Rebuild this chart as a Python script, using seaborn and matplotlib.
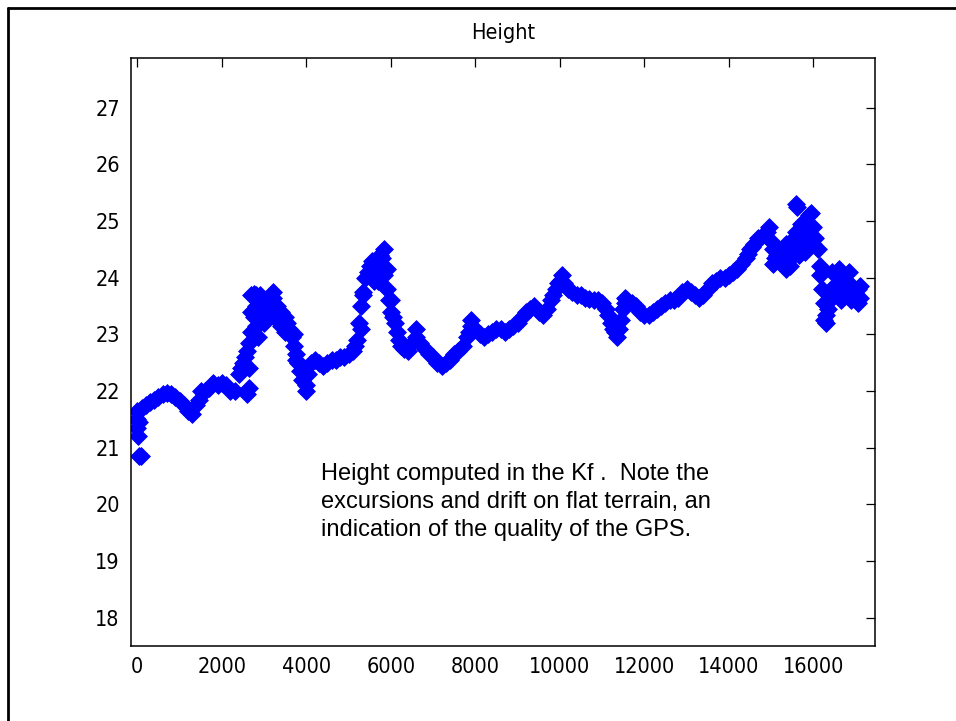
import os
import numpy as np
import pandas as pd
import matplotlib
matplotlib.use("Agg")
import matplotlib.pyplot as plt
import seaborn as sns
from matplotlib import font_manager
from matplotlib.font_manager import FontProperties
from matplotlib.lines import Line2D

# ---------------- data ----------------
x_main = list(range(0, 17200, 100))
y_main = [
    21.65, 21.70, 21.75, 21.80, 21.85, 21.90, 21.95, 21.97, 21.95, 21.90,   # 0-900
    21.82, 21.75, 21.65, 21.60, 21.75, 22.00, 22.00, 22.05, 22.15, 22.10,   # 1000-1900
    22.15, 22.10, 22.00, 22.00, 22.30, 22.50, 22.70, 23.40, 23.50, 23.40,   # 2000-2900
    23.45, 23.60, 23.65, 23.50, 23.40, 23.30, 23.10, 22.80, 22.50, 22.20,   # 3000-3900
    22.10, 22.50, 22.55, 22.50, 22.45, 22.50, 22.55, 22.55, 22.60, 22.60,   # 4000-4900
    22.65, 22.70, 22.90, 23.50, 24.00, 24.20, 24.20, 24.15, 24.20, 23.80,   # 5000-5900
    23.40, 23.20, 22.90, 22.75, 22.70, 22.85, 22.95, 22.85, 22.75, 22.65,   # 6000-6900
    22.60, 22.50, 22.45, 22.50, 22.55, 22.65, 22.70, 22.80, 22.95, 23.15,   # 7000-7900
    23.10, 23.00, 22.95, 23.00, 23.05, 23.10, 23.10, 23.05, 23.10, 23.15,   # 8000-8900
    23.20, 23.30, 23.40, 23.45, 23.50, 23.40, 23.35, 23.45, 23.60, 23.80,   # 9000-9900
    23.95, 23.90, 23.80, 23.75, 23.70, 23.70, 23.65, 23.62, 23.60, 23.60,   # 10000-10900
    23.55, 23.45, 23.20, 23.05, 23.10, 23.45, 23.60, 23.55, 23.50, 23.40,   # 11000-11900
    23.35, 23.35, 23.40, 23.45, 23.50, 23.55, 23.60, 23.60, 23.65, 23.75,   # 12000-12900
    23.80, 23.75, 23.70, 23.65, 23.70, 23.80, 23.90, 23.95, 24.00, 24.00,   # 13000-13900
    24.05, 24.10, 24.15, 24.25, 24.35, 24.50, 24.60, 24.70, 24.75, 24.80,   # 14000-14900
    24.65, 24.35, 24.45, 24.50, 24.45, 24.60, 24.80, 24.60, 24.70, 24.95,   # 15000-15900
    24.90, 24.50, 23.80, 23.35, 23.60, 23.85, 23.90, 23.95, 23.75, 23.80,   # 16000-16900
    23.70, 23.65,                                                           # 17000-17100
]

# extra samples read where the trace is steep or noisy
x_extra = [0, 0, 20, 30, 80, 50,
           1450, 2450, 2550,
           2600, 2650, 2650, 2650, 2700, 2700, 2750, 2750, 2800, 2800, 2850, 2850,
           2900, 2900, 2950, 3000, 3050, 3100, 3150, 3200, 3250, 3300, 3350,
           3400, 3450, 3500, 3550, 3650, 3700, 3750, 3750, 3850, 3950, 4000, 4050,
           5150, 5250, 5300, 5350, 5350, 5450, 5550, 5600, 5650, 5700, 5750,
           5750, 5800, 5850, 5850, 5900, 5950, 6000, 6050, 6150, 6250,
           6600, 7850, 7900, 9850, 9950, 10050,
           11150, 11250, 11350, 11450, 11550, 11550,
           14450, 14550, 14950, 15050, 15050, 15150, 15250, 15350, 15350, 15450,
           15450, 15550, 15550, 15600, 15620, 15650, 15650, 15700, 15750, 15800,
           15850, 15850, 15900, 15950, 15950, 16000, 16050, 16150, 16150,
           16250, 16250, 16300, 16350, 16450, 16450, 16550, 16600, 16650, 16650,
           16750, 16850, 16850, 16900, 16950, 17050, 17050, 17100]
y_extra = [21.50, 21.35, 21.20, 20.85, 20.85, 21.45,
           21.85, 22.40, 22.60,
           21.95, 22.05, 22.40, 22.85, 23.05, 23.70, 23.72, 23.30, 23.15, 23.70, 22.95, 23.50,
           23.70, 23.20, 23.60, 23.20, 23.55, 23.35, 23.50, 23.75, 23.45, 23.25, 23.35,
           23.15, 23.25, 23.05, 23.20, 22.95, 23.00, 22.55, 22.65, 22.35, 22.35, 22.00, 22.30,
           22.80, 23.20, 23.10, 23.70, 23.75, 24.10, 24.30, 23.95, 24.00, 23.95, 24.40,
           24.10, 24.35, 24.50, 24.05, 24.15, 23.60, 23.60, 23.30, 23.05, 22.80,
           23.10, 23.05, 23.25, 23.70, 23.90, 24.05,
           23.35, 23.10, 22.95, 23.25, 23.55, 23.65,
           24.42, 24.55, 24.90, 24.25, 24.50, 24.40, 24.30, 24.15, 24.60, 24.20,
           24.55, 24.40, 24.70, 25.30, 25.25, 24.40, 24.70, 24.95, 24.80, 24.45,
           24.55, 24.85, 25.10, 25.15, 24.75, 24.60, 24.70, 24.05, 24.20,
           23.25, 23.55, 23.20, 23.45, 24.10, 23.75, 23.70, 24.15, 23.60, 24.05,
           23.70, 24.10, 23.90, 23.60, 23.65, 23.55, 23.80, 23.85]

x_ticks = [0, 2000, 4000, 6000, 8000, 10000, 12000, 14000, 16000]
y_ticks = [18, 19, 20, 21, 22, 23, 24, 25, 26, 27]
title_text = "Height"
note_text = ("Height computed in the Kf .  Note the\n"
             "excursions and drift on flat terrain, an\n"
             "indication of the quality of the GPS.")

df = pd.DataFrame({"x": x_main + x_extra, "height": y_main + y_extra})

# ---------------- style ----------------
sns.set_theme(style="white")
plt.rcParams["font.family"] = ["Liberation Sans", "DejaVu Sans"]

# narrow face for axis text (MATLAB-like), if one is installed
narrow_fp = None
for f in font_manager.findSystemFonts():
    base = os.path.basename(f)
    if base.startswith("LiberationSansNarrow-Regular"):
        narrow_fp = f
        break
if narrow_fp is None:
    for f in font_manager.findSystemFonts():
        if os.path.basename(f) == "DejaVuSansCondensed.ttf":
            narrow_fp = f
            break


def axis_font(size):
    if narrow_fp:
        return FontProperties(fname=narrow_fp, size=size)
    return FontProperties(family="Liberation Sans", size=size)


fig = plt.figure(figsize=(9.56, 7.21), dpi=100)
fig.patch.set_facecolor("white")
ax = fig.add_axes([131 / 956, 1 - 646 / 721, 744 / 956, 588 / 721])

sns.scatterplot(data=df, x="x", y="height", ax=ax, marker="D", s=82,
                color="#0000ff", edgecolor="#0000ff", linewidth=0.6, legend=False)

ax.set_xlim(-150, 17460)
ax.set_ylim(17.5, 27.88)
ax.set_xticks(x_ticks)
ax.set_xticklabels([str(v) for v in x_ticks], fontproperties=axis_font(15.5))
ax.set_yticks(y_ticks)
ax.set_yticklabels([str(v) for v in y_ticks], fontproperties=axis_font(15.5))
ax.set_xlabel("")
ax.set_ylabel("")
ax.tick_params(direction="in", length=6.3, width=0.9, top=True, right=True,
               colors="black", pad=8)
for sp in ax.spines.values():
    sp.set_visible(True)
    sp.set_color("black")
    sp.set_linewidth(1.1)

fig.text(503 / 956, 1 - 33 / 721, title_text, ha="center", va="center",
         fontproperties=axis_font(15.5), color="black")

fig.text(321 / 956, 1 - 463 / 721, note_text, ha="left", va="top",
         fontsize=17, color="black", linespacing=1.36,
         family=["Liberation Sans", "DejaVu Sans"])

# slide frame (left and top edges)
fig.add_artist(Line2D([8 / 956, 8 / 956], [0, 1 - 8 / 721], transform=fig.transFigure,
                      color="black", linewidth=2.0))
fig.add_artist(Line2D([8 / 956, 1], [1 - 8 / 721, 1 - 8 / 721], transform=fig.transFigure,
                      color="black", linewidth=2.0))

fig.savefig("out.png", dpi=100, facecolor="white")
